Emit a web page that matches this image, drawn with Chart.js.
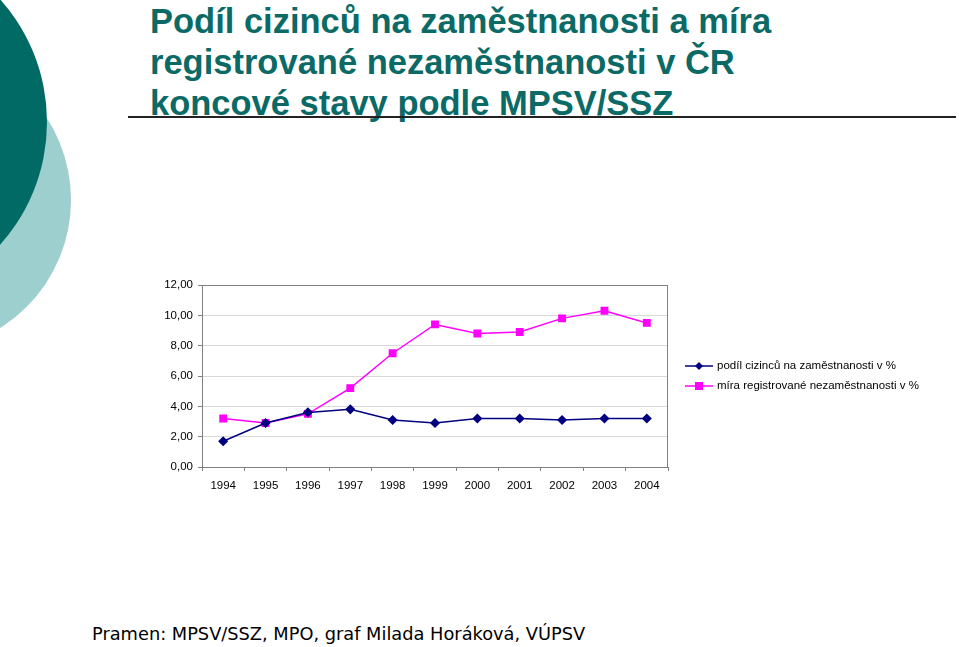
<!DOCTYPE html>
<html>
<head>
<meta charset="utf-8">
<script src="https://cdn.jsdelivr.net/npm/chart.js@4.4.1/dist/chart.umd.min.js"></script>
<style>
  html, body { margin: 0; padding: 0; background: #fff; }
  body { width: 959px; height: 647px; position: relative; overflow: hidden; font-family: "Liberation Sans", Arial, sans-serif; }
  .circle { position: absolute; border-radius: 50%; }
  #c1 { left: -231px; top: 49px; width: 302px; height: 302px; background: #9dcfcf; }
  #c2 { left: -321px; top: -62px; width: 368px; height: 368px; background: #016a64; }
  #title { position: absolute; left: 150px; top: 1px; color: #0b6a66; font-weight: bold; font-size: 34.5px; line-height: 41px; white-space: nowrap; }
  #rule { position: absolute; left: 128px; top: 116px; width: 828px; height: 0; border-top: 2px solid #222; }
  #wrap { position: absolute; left: 140px; top: 270px; width: 819px; height: 230px; }
  #foot { position: absolute; left: 92px; top: 623px; font-family: "DejaVu Sans", Verdana, sans-serif; font-size: 17.8px; color: #000; white-space: nowrap; }
</style>
</head>
<body>
<div class="circle" id="c1"></div>
<div class="circle" id="c2"></div>
<div id="title">Podíl cizinců na zaměstnanosti a míra<br>registrované nezaměstnanosti v ČR<br>koncové stavy podle MPSV/SSZ</div>
<div id="rule"></div>
<div id="wrap"><canvas id="chart"></canvas></div>
<div id="foot">Pramen: MPSV/SSZ, MPO, graf Milada Horáková, VÚPSV</div>
<script>
// data
const years = ["1994","1995","1996","1997","1998","1999","2000","2001","2002","2003","2004"];
const foreignShare = [1.7, 2.9, 3.6, 3.8, 3.1, 2.9, 3.2, 3.2, 3.1, 3.2, 3.2];
const unemployment = [3.2, 2.9, 3.5, 5.2, 7.5, 9.4, 8.8, 8.9, 9.8, 10.3, 9.5];
const yTicks = [0, 2, 4, 6, 8, 10, 12];

const tickFont = { family: "Liberation Sans, Arial, sans-serif", size: 11.5 };

// grey frame round the plot area
const frame = {
  id: "frame",
  afterDatasetsDraw(chart) {
    const a = chart.chartArea, ctx = chart.ctx;
    ctx.save();
    ctx.strokeStyle = "#808080";
    ctx.lineWidth = 1;
    ctx.strokeRect(a.left + 0.5, a.top + 0.5, a.width - 1, a.height);
    ctx.restore();
  }
};

// legend: line sample with marker, like the original
const sideLegend = {
  id: "sideLegend",
  afterDraw(chart) {
    const ctx = chart.ctx;
    const x0 = 545, y0 = 96, gap = 20;
    ctx.save();
    ctx.font = "11.5px Liberation Sans, Arial, sans-serif";
    ctx.textBaseline = "middle";
    chart.data.datasets.forEach((ds, i) => {
      const y = y0 + i * gap;
      ctx.strokeStyle = ds.borderColor;
      ctx.lineWidth = 1.5;
      ctx.beginPath();
      ctx.moveTo(x0, y);
      ctx.lineTo(x0 + 28, y);
      ctx.stroke();
      ctx.fillStyle = ds.pointBackgroundColor;
      ctx.beginPath();
      if (ds.pointStyle === "rectRot") {
        ctx.moveTo(x0 + 14, y - 4); ctx.lineTo(x0 + 18, y); ctx.lineTo(x0 + 14, y + 4); ctx.lineTo(x0 + 10, y);
        ctx.closePath(); ctx.fill();
      } else {
        ctx.fillRect(x0 + 10, y - 4, 8, 8);
      }
      ctx.fillStyle = "#000";
      ctx.fillText(ds.label, x0 + 32, y);
    });
    ctx.restore();
  }
};

new Chart(document.getElementById("chart"), {
  type: "line",
  data: {
    labels: years,
    datasets: [
      { label: "podíl cizinců na zaměstnanosti v %", data: foreignShare,
        borderColor: "#000080", backgroundColor: "#000080", pointBackgroundColor: "#000080",
        pointBorderColor: "#000080", borderWidth: 1.5, pointStyle: "rectRot", pointRadius: 4, tension: 0 },
      { label: "míra registrované nezaměstnanosti v %", data: unemployment,
        borderColor: "#ff00ff", backgroundColor: "#ff00ff", pointBackgroundColor: "#ff00ff",
        pointBorderColor: "#ff00ff", borderWidth: 1.5, pointStyle: "rect", pointRadius: 4.5, tension: 0 }
    ]
  },
  options: {
    responsive: true,
    maintainAspectRatio: false,
    animation: false,
    layout: { padding: { left: 0, top: 15, right: 291, bottom: 0 } },
    plugins: { legend: { display: false }, tooltip: { enabled: false } },
    scales: {
      x: {
        offset: true,
        grid: { display: true, drawOnChartArea: false, offset: true, tickLength: 4, color: "#808080" },
        border: { color: "#808080" },
        ticks: { color: "#000", font: tickFont, padding: 8, maxRotation: 0 },
        afterFit(s) { s.height = 33; }
      },
      y: {
        min: 0, max: 12,
        afterBuildTicks(s) { s.ticks = yTicks.map(v => ({ value: v })); },
        grid: { color: "#d9d9d9", tickLength: 4, tickColor: "#808080" },
        border: { color: "#808080" },
        ticks: { color: "#000", font: tickFont, padding: 5,
                 callback: v => v.toFixed(2).replace(".", ",") },
        afterFit(s) { s.width = 62; }
      }
    }
  },
  plugins: [frame, sideLegend]
});
</script>
</body>
</html>
